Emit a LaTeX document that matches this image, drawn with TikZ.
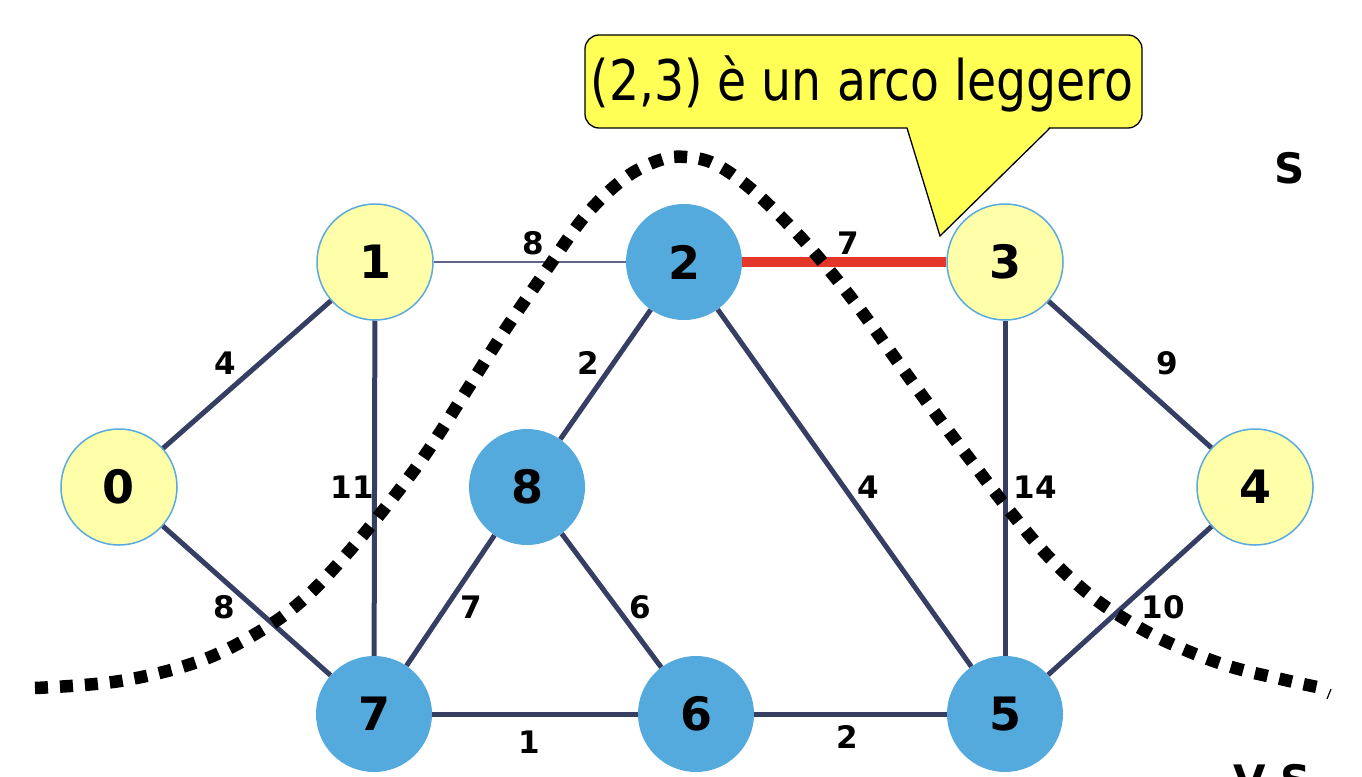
\documentclass[tikz,border=0pt]{standalone}
\usepackage{fontspec}
\setmainfont{DejaVu Sans}
\usetikzlibrary{calc}
\definecolor{nyel}{HTML}{FFFFAA}
\definecolor{nblu}{HTML}{55AADD}
\definecolor{nbrd}{HTML}{5AAAE0}
\definecolor{edg}{HTML}{363F63}
\definecolor{redg}{HTML}{E5362A}
\definecolor{cally}{HTML}{FFFF55}
\tikzset{
  vtx/.style={circle, minimum size=116pt, inner sep=0pt, font=\fontsize{46}{46}\selectfont\bfseries},
  yv/.style={vtx, fill=nyel, draw=nbrd, line width=1.5pt},
  bv/.style={vtx, fill=nblu},
  edge/.style={draw=edg, line width=5pt},
  thinedge/.style={draw=edg!80!white, line width=2pt},
  redge/.style={draw=redg, line width=10pt},
  wlab/.style={font=\fontsize{31}{31}\selectfont\bfseries, inner sep=0pt},
  cutline/.style={draw=black, line width=12.5pt, dash pattern=on 13pt off 12pt},
  setlab/.style={font=\fontsize{42}{42}\selectfont\bfseries, inner sep=0pt}
}
\begin{document}
\begin{tikzpicture}[x=1pt,y=-1pt]
\useasboundingbox (0,0) rectangle (1362,776);
\fill[white] (0,0) rectangle (1362,776);
% nodes
\node[yv] (n0) at (119,487) {0};
\node[yv] (n1) at (375,262) {1};
\node[bv] (n2) at (684,262) {2};
\node[yv] (n3) at (1005,262) {3};
\node[yv] (n4) at (1255,487) {4};
\node[bv] (n8) at (527,487) {8};
\node[bv] (n7) at (374,714) {7};
\node[bv] (n6) at (696,714) {6};
\node[bv] (n5) at (1005,714) {5};
% edges
\path[thinedge] (n1) -- (n2);
\path[redge] (n2) -- (n3);
\path[edge] (n0) -- (n1);
\path[edge] (n0) -- (n7);
\path[edge] (n1) -- (n7);
\path[edge] (n2) -- (n8);
\path[edge] (n2) -- (n5);
\path[edge] (n3) -- (n5);
\path[edge] (n3) -- (n4);
\path[edge] (n8) -- (n7);
\path[edge] (n8) -- (n6);
\path[edge] (n4) -- (n5);
\path[edge] (n7) -- (n6);
\path[edge] (n6) -- (n5);
% weights
\node[wlab] (w12) at (533,243) {8};
\node[wlab] (w23) at (848,243) {7};
\node[wlab] (w01) at (225,363) {4};
\node[wlab] (w17) at (352,487) {11};
\node[wlab] (w28) at (588,363) {2};
\node[wlab] (w25) at (868,487) {4};
\node[wlab] (w35) at (1035,487) {14};
\node[wlab] (w34) at (1167,363) {9};
\node[wlab] (w07) at (224,607) {8};
\node[wlab] (w87) at (471,607) {7};
\node[wlab] (w86) at (640,607) {6};
\node[wlab] (w45) at (1163,607) {10};
\node[wlab] (w76) at (529,742) {1};
\node[wlab] (w65) at (847,737) {2};
% cut
\draw[cutline] plot[smooth, tension=0.6] coordinates {(35,688) (120,681) (200,661) (262,630) (305,598) (345,556) (385,508) (425,455) (465,393) (505,330) (545,272) (585,216) (625,178) (660,160) (686,157) (715,164) (750,188) (790,226) (825,265) (862,312) (900,365) (935,413) (972,462) (1005,505) (1045,553) (1085,591) (1120,616) (1165,641) (1225,665) (1285,680) (1322,688)};
\draw[line width=1.2pt] (1327,699) -- (1331,689);
% set labels
\node[setlab] (S) at (1290,168) {S};
\node[setlab, anchor=north] (VS) at (1272,764) {V-S};
% callout
\coordinate (ctip) at (940,236);
\coordinate (cbl) at (907,128);
\coordinate (cbr) at (1050,128);
\filldraw[fill=cally, draw=black, line width=1.3pt, rounded corners=14pt] (585,35) rectangle (1142,128);
\fill[cally] ($(cbl)+(0,-2)$) -- (ctip) -- ($(cbr)+(0,-2)$) -- cycle;
\draw[line width=1.3pt, line join=miter] (cbl) -- (ctip) -- (cbr);
\node[font=\fontsize{56}{56}\selectfont, inner sep=0pt, xscale=0.845, transform shape] (callt) at (862,84) {(2,3) è un arco leggero};
\end{tikzpicture}
\end{document}
